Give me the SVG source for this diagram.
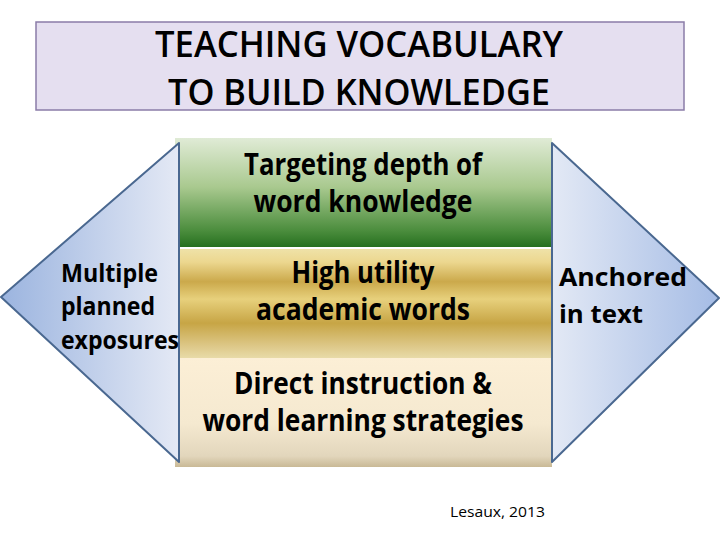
<svg xmlns="http://www.w3.org/2000/svg" width="720" height="540" viewBox="0 0 720 540">
<defs>
<linearGradient id="gGreen" x1="0" y1="0" x2="0" y2="1">
<stop offset="0" stop-color="#e0ebd6"/>
<stop offset="0.45" stop-color="#a9c98f"/>
<stop offset="0.85" stop-color="#4b8d3d"/>
<stop offset="1" stop-color="#26701f"/>
</linearGradient>
<linearGradient id="gGold" x1="0" y1="0" x2="0" y2="1">
<stop offset="0" stop-color="#efe2a8"/>
<stop offset="0.12" stop-color="#ecd78f"/>
<stop offset="0.3" stop-color="#cba94b"/>
<stop offset="0.46" stop-color="#e7d07c"/>
<stop offset="0.68" stop-color="#c7a545"/>
<stop offset="0.88" stop-color="#dcc685"/>
<stop offset="1" stop-color="#e8dba8"/>
</linearGradient>
<linearGradient id="gCream" x1="0" y1="0" x2="0" y2="1">
<stop offset="0" stop-color="#fcefd6"/>
<stop offset="0.6" stop-color="#f5e9d0"/>
<stop offset="0.9" stop-color="#e2d6bc"/>
<stop offset="1" stop-color="#c9b996"/>
</linearGradient>
<linearGradient id="gLeft" x1="1" y1="0" x2="0" y2="0">
<stop offset="0" stop-color="#e4e9f5"/>
<stop offset="1" stop-color="#9bb4df"/>
</linearGradient>
<linearGradient id="gRight" x1="0" y1="0" x2="1" y2="0">
<stop offset="0" stop-color="#e3e9f5"/>
<stop offset="1" stop-color="#a5bce5"/>
</linearGradient>
</defs>
<style>
.t{font-family:"Open Sans","Noto Sans","Liberation Sans",sans-serif;fill:#000}
.title{font-size:36px;font-weight:600}
.box{font-size:30px;font-weight:bold;text-anchor:middle}
.side{font-size:25px;font-weight:bold}
.tri{stroke:#4a6890;stroke-width:2;stroke-linejoin:round}
</style>
<rect width="720" height="540" fill="#ffffff"/>
<g id="title">
<rect x="36" y="22" width="648" height="88" fill="#e5dff0" stroke="#8a7ca8" stroke-width="1.5"/>
<text class="t title" x="155" y="57" textLength="408" lengthAdjust="spacingAndGlyphs">TEACHING VOCABULARY</text>
<text class="t title" x="168" y="105" textLength="382" lengthAdjust="spacingAndGlyphs">TO BUILD KNOWLEDGE</text>
</g>
<g id="box-green">
<rect x="175" y="138" width="377" height="109" fill="url(#gGreen)"/>
<text class="t box" x="363" y="175" textLength="238" lengthAdjust="spacingAndGlyphs">Targeting depth of</text>
<text class="t box" x="363" y="212" textLength="219" lengthAdjust="spacingAndGlyphs">word knowledge</text>
</g>
<g id="box-gold">
<rect x="175" y="249" width="377" height="109" fill="url(#gGold)"/>
<text class="t box" x="363" y="283" textLength="143" lengthAdjust="spacingAndGlyphs">High utility</text>
<text class="t box" x="363" y="320" textLength="214" lengthAdjust="spacingAndGlyphs">academic words</text>
</g>
<g id="box-cream">
<rect x="175" y="358" width="377" height="109" fill="url(#gCream)"/>
<text class="t box" x="363" y="394" textLength="258" lengthAdjust="spacingAndGlyphs">Direct instruction &amp;</text>
<text class="t box" x="363" y="431" textLength="321" lengthAdjust="spacingAndGlyphs">word learning strategies</text>
</g>
<g id="arrow-left">
<polygon class="tri" points="179,143 1,297 179,462" fill="url(#gLeft)"/>
<text class="t side" x="61" y="282" textLength="97" lengthAdjust="spacingAndGlyphs">Multiple</text>
<text class="t side" x="61" y="315" textLength="94" lengthAdjust="spacingAndGlyphs">planned</text>
<text class="t side" x="61" y="349" textLength="118" lengthAdjust="spacingAndGlyphs">exposures</text>
</g>
<g id="arrow-right">
<polygon class="tri" points="552,143 719,298 552,462" fill="url(#gRight)"/>
<text class="t side" x="559" y="286" font-size="27" textLength="128" lengthAdjust="spacingAndGlyphs">Anchored</text>
<text class="t side" x="559" y="323" font-size="27" textLength="84" lengthAdjust="spacingAndGlyphs">in text</text>
</g>
<g id="connectors"></g>
<g id="citation">
<text class="t" x="450" y="517" font-size="14" textLength="95" lengthAdjust="spacingAndGlyphs">Lesaux, 2013</text>
</g>
</svg>
